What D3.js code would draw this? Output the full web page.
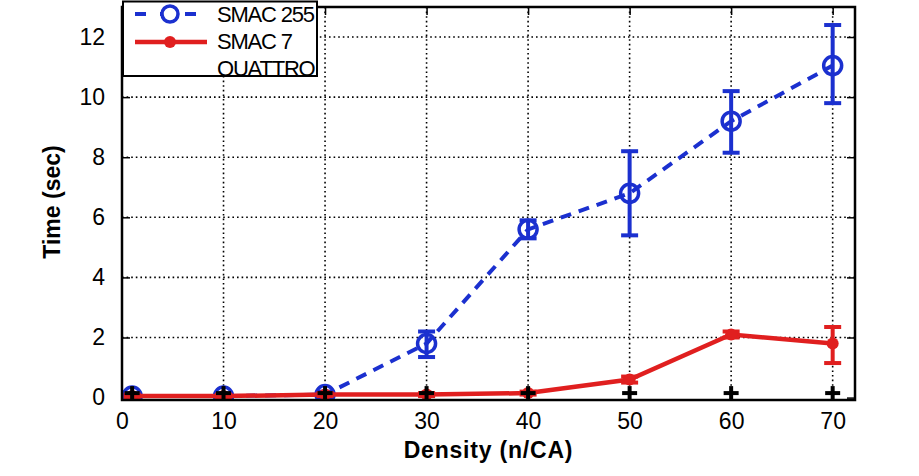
<!DOCTYPE html>
<html>
<head>
<meta charset="utf-8">
<script src="https://cdn.jsdelivr.net/npm/d3@7"></script>
<style>
  body { margin: 0; background: #fff; }
  text { font-family: "Liberation Sans", Arial, sans-serif; }
</style>
</head>
<body>
<div id="chart"></div>
<script>
// values
let densities = [1, 10, 20, 30, 40, 50, 60, 70];
let smac255 = [0.05, 0.05, 0.1, 1.8, 5.6, 6.8, 9.2, 11.05];
let smac255Lo = [0.0, 0.0, 0.0, 1.35, 5.3, 5.4, 8.15, 9.8];
let smac255Hi = [0.1, 0.1, 0.2, 2.2, 5.9, 8.2, 10.2, 12.4];
let smac7 = [0.05, 0.05, 0.1, 0.1, 0.15, 0.6, 2.1, 1.8];
let smac7Lo = [0.0, 0.0, 0.05, 0.05, 0.1, 0.5, 2.0, 1.15];
let smac7Hi = [0.1, 0.1, 0.15, 0.15, 0.2, 0.7, 2.2, 2.35];
let quattro = [0.15, 0.15, 0.15, 0.15, 0.15, 0.15, 0.15, 0.15];
let quattroLo = [-0.3, -0.3, -0.3, -0.3, -0.3, -0.3, -0.3, -0.3];
let quattroHi = [0.15, 0.15, 0.15, 0.15, 0.15, 0.15, 0.15, 0.15];
let xTicks = [0, 10, 20, 30, 40, 50, 60, 70];
let yTicks = [0, 2, 4, 6, 8, 10, 12];
let seriesNames = ["SMAC 255", "SMAC 7", "QUATTRO"];

let svgWidth = 919;
let svgHeight = 476;
let plot = { left: 122, right: 855, top: 7, bottom: 400 };

let blue = "#1b30cf";
let red = "#e01f1f";

let svg = d3.select("#chart").append("svg")
  .attr("width", svgWidth)
  .attr("height", svgHeight);

let x = d3.scaleLinear().domain([0, 72.2]).range([plot.left, plot.right]);
let y = d3.scaleLinear().domain([-0.08, 13]).range([plot.bottom, plot.top]);

svg.append("clipPath").attr("id", "clip")
  .append("rect")
  .attr("x", plot.left).attr("y", plot.top)
  .attr("width", plot.right - plot.left).attr("height", plot.bottom - plot.top);

// dotted grid
let grid = svg.append("g");
grid.selectAll(".gx").data(xTicks.filter(d => d > 0)).enter().append("line")
  .attr("x1", d => x(d)).attr("x2", d => x(d))
  .attr("y1", plot.top).attr("y2", plot.bottom)
  .attr("stroke", "#000").attr("stroke-width", 1.6).attr("stroke-dasharray", "1.6,3");
grid.selectAll(".gy").data(yTicks.filter(d => d > 0)).enter().append("line")
  .attr("y1", d => y(d)).attr("y2", d => y(d))
  .attr("x1", plot.left).attr("x2", plot.right)
  .attr("stroke", "#000").attr("stroke-width", 1.6).attr("stroke-dasharray", "1.6,3");

// axes with inward ticks
let bottomAxis = d3.axisBottom(x).tickValues(xTicks).tickSizeInner(-8).tickSizeOuter(0).tickPadding(13);
let leftAxis = d3.axisLeft(y).tickValues(yTicks).tickSizeInner(-8).tickSizeOuter(0).tickPadding(17);
let topAxis = d3.axisTop(x).tickValues(xTicks).tickSizeInner(-8).tickSizeOuter(0).tickFormat("");
let rightAxis = d3.axisRight(y).tickValues(yTicks).tickSizeInner(-8).tickSizeOuter(0).tickFormat("");

function styleAxis(g) {
  g.select(".domain").remove();
  g.selectAll(".tick line").attr("stroke", "#000").attr("stroke-width", 1.5);
  g.selectAll(".tick text").attr("fill", "#000")
    .style("font-family", "'Liberation Sans', Arial, sans-serif")
    .style("font-size", "23px");
}

svg.append("g").attr("transform", `translate(0,${plot.bottom})`).call(bottomAxis).call(styleAxis);
svg.append("g").attr("transform", `translate(${plot.left},0)`).call(leftAxis).call(styleAxis);
svg.append("g").attr("transform", `translate(0,${plot.top})`).call(topAxis).call(styleAxis);
svg.append("g").attr("transform", `translate(${plot.right},0)`).call(rightAxis).call(styleAxis);

let marks = svg.append("g").attr("clip-path", "url(#clip)");

function errorBars(g, lo, hi, color, capW) {
  densities.forEach(function(d, i) {
    g.append("line")
      .attr("x1", x(d)).attr("x2", x(d))
      .attr("y1", y(lo[i])).attr("y2", y(hi[i]))
      .attr("stroke", color).attr("stroke-width", 4);
    [lo[i], hi[i]].forEach(function(v) {
      g.append("line")
        .attr("x1", x(d) - capW / 2).attr("x2", x(d) + capW / 2)
        .attr("y1", y(v)).attr("y2", y(v))
        .attr("stroke", color).attr("stroke-width", 4);
    });
  });
}

let line = d3.line().x((d, i) => x(densities[i])).y(d => y(d));

// SMAC 255
marks.append("path").datum(smac255)
  .attr("d", line).attr("fill", "none")
  .attr("stroke", blue).attr("stroke-width", 4).attr("stroke-dasharray", "11,8");
errorBars(marks.append("g"), smac255Lo, smac255Hi, blue, 17);
marks.selectAll(".c255").data(smac255).enter().append("circle")
  .attr("cx", (d, i) => x(densities[i])).attr("cy", d => y(d))
  .attr("r", 9).attr("fill", "none").attr("stroke", blue).attr("stroke-width", 3.5);

// SMAC 7
marks.append("path").datum(smac7)
  .attr("d", line).attr("fill", "none")
  .attr("stroke", red).attr("stroke-width", 4.5);
errorBars(marks.append("g"), smac7Lo, smac7Hi, red, 17);
marks.selectAll(".c7").data(smac7).enter().append("circle")
  .attr("cx", (d, i) => x(densities[i])).attr("cy", d => y(d))
  .attr("r", 6).attr("fill", red);

// QUATTRO (error bars and plus markers, no line)
errorBars(marks.append("g"), quattroLo, quattroHi, "#000", 15);
marks.selectAll(".q").data(quattro).enter().append("line")
  .attr("x1", (d, i) => x(densities[i])).attr("x2", (d, i) => x(densities[i]))
  .attr("y1", d => y(d) - 7).attr("y2", d => y(d))
  .attr("stroke", "#000").attr("stroke-width", 4);

// frame
svg.append("rect")
  .attr("x", plot.left).attr("y", plot.top)
  .attr("width", plot.right - plot.left).attr("height", plot.bottom - plot.top)
  .attr("fill", "none").attr("stroke", "#000").attr("stroke-width", 2.5);

// axis titles
svg.append("text")
  .attr("x", (plot.left + plot.right) / 2).attr("y", 458)
  .attr("text-anchor", "middle")
  .style("font-weight", "bold").style("font-size", "23px").style("letter-spacing", "0.8px")
  .text("Density (n/CA)");

svg.append("text")
  .attr("transform", "translate(60,202) rotate(-90)")
  .attr("text-anchor", "middle")
  .style("font-weight", "bold").style("font-size", "23px")
  .text("Time (sec)");

// legend
let legend = svg.append("g");
svg.append("clipPath").attr("id", "legclip")
  .append("rect").attr("x", 123).attr("y", 1.5).attr("width", 194).attr("height", 74.5);
legend.append("rect")
  .attr("x", 123).attr("y", 1.5).attr("width", 194).attr("height", 74.5)
  .attr("fill", "#fff").attr("stroke", "#000").attr("stroke-width", 2);
legend.append("line")
  .attr("x1", 135).attr("x2", 207).attr("y1", 14).attr("y2", 14)
  .attr("stroke", blue).attr("stroke-width", 4).attr("stroke-dasharray", "11,14");
legend.append("circle").attr("cx", 170).attr("cy", 14).attr("r", 8)
  .attr("fill", "#fff").attr("stroke", blue).attr("stroke-width", 3.5);
legend.append("line")
  .attr("x1", 135).attr("x2", 207).attr("y1", 42).attr("y2", 42)
  .attr("stroke", red).attr("stroke-width", 4.5);
legend.append("circle").attr("cx", 170).attr("cy", 42).attr("r", 6).attr("fill", red);
legend.append("g").attr("clip-path", "url(#legclip)")
  .selectAll("text").data(seriesNames).enter().append("text")
  .attr("x", 217).attr("y", (d, i) => 22 + i * 27)
  .style("font-size", "22px").style("letter-spacing", "-1.2px")
  .text(d => d);
</script>
</body>
</html>
